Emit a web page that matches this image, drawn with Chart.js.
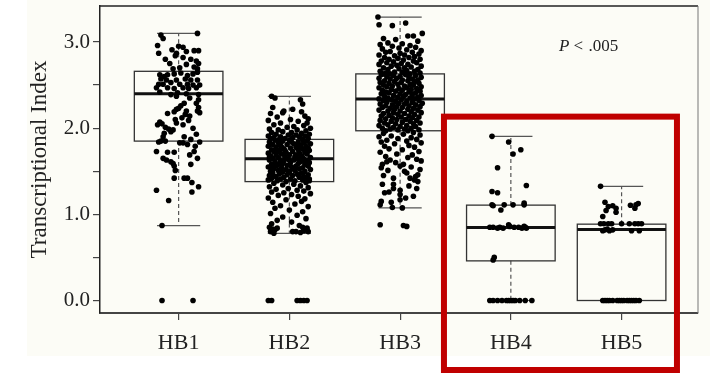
<!DOCTYPE html>
<html>
<head>
<meta charset="utf-8">
<script src="https://cdn.jsdelivr.net/npm/chart.js@4/dist/chart.umd.min.js"></script>
<style>
  html, body { margin: 0; padding: 0; background: #fff; }
  #wrap { width: 710px; height: 373px; position: relative; }
</style>
</head>
<body>
<div id="wrap"><canvas id="boxChart"></canvas></div>
<script>
// groups and box summaries
const categories = ["HB1", "HB2", "HB3", "HB4", "HB5"];
const q1 = [1.85, 1.38, 1.97, 0.46, 0.00];
const medians = [2.40, 1.645, 2.34, 0.847, 0.823];
const q3 = [2.66, 1.87, 2.63, 1.107, 0.886];
const whiskerLow = [0.87, 0.78, 1.075, 0.00, 0.00];
const whiskerHigh = [3.10, 2.37, 3.29, 1.905, 1.325];

const yTicks = [0, 0.5, 1, 1.5, 2, 2.5, 3];
const yTickLabels = ["0.0", "", "1.0", "", "2.0", "", "3.0"];

// jittered observations: [offset from group centre, index value]
const hb1Points = [
  [0.17,3.10],[-0.16,3.08],[-0.14,3.04],[-0.19,2.96],[0.00,2.95],[0.04,2.94],[-0.06,2.91],[0.14,2.90],[0.18,2.90],[0.07,2.89],
  [-0.02,2.87],[-0.18,2.87],[-0.03,2.84],[0.04,2.82],[0.11,2.80],[0.16,2.78],[-0.12,2.80],[-0.08,2.75],[0.18,2.75],[0.07,2.74],
  [0.01,2.70],[0.14,2.71],[0.17,2.69],[-0.05,2.69],[-0.17,2.62],[-0.13,2.60],[-0.10,2.62],[-0.04,2.63],[0.02,2.64],[0.08,2.61],
  [0.13,2.63],[0.17,2.65],[-0.16,2.57],[-0.11,2.56],[-0.02,2.56],[0.06,2.57],[0.11,2.56],[0.17,2.56],[-0.18,2.51],[-0.14,2.51],
  [-0.07,2.53],[0.01,2.51],[0.08,2.51],[0.13,2.50],[0.19,2.50],[-0.20,2.47],[-0.10,2.47],[-0.04,2.46],[0.04,2.47],[0.09,2.46],
  [0.16,2.47],[-0.17,2.42],[-0.07,2.39],[-0.01,2.41],[0.07,2.40],[0.18,2.39],[0.10,2.35],[-0.02,2.37],[0.18,2.33],[0.16,2.29],
  [0.05,2.29],[0.02,2.26],[0.00,2.23],[-0.02,2.22],[0.18,2.24],[0.17,2.20],[0.07,2.20],[0.06,2.16],[-0.04,2.19],[-0.10,2.17],
  [0.10,2.14],[0.19,2.18],[-0.03,2.10],[0.03,2.12],[0.09,2.09],[-0.17,2.07],[-0.19,2.04],[-0.15,2.05],[-0.02,2.06],[0.04,2.04],
  [-0.12,2.01],[-0.09,1.99],[0.13,2.00],[-0.07,1.96],[-0.13,1.94],[-0.05,1.98],[0.16,1.93],[-0.14,1.90],[0.05,1.90],[0.11,1.87],
  [-0.16,1.85],[-0.12,1.85],[-0.18,1.84],[0.01,1.83],[0.04,1.83],[0.08,1.81],[0.19,1.84],[0.15,1.79],[-0.20,1.73],[-0.10,1.72],
  [-0.04,1.72],[0.14,1.73],[0.10,1.69],[0.17,1.65],[-0.14,1.65],[-0.11,1.63],[-0.07,1.61],[-0.05,1.59],[-0.04,1.56],[-0.03,1.51],
  [0.11,1.58],[-0.04,1.42],[0.05,1.42],[0.08,1.42],[0.12,1.37],[0.18,1.32],[0.12,1.26],[-0.20,1.28],[-0.09,1.16],[-0.15,0.87],
  [-0.15,0.00],[0.13,0.00]
];

const hb2Points = [
  [-0.16,2.37],[-0.13,2.35],[0.10,2.33],[0.12,2.28],[-0.15,2.24],[0.03,2.22],[-0.05,2.20],[0.11,2.19],[-0.17,2.17],[-0.06,2.18],
  [0.14,2.14],[0.17,2.11],[-0.11,2.13],[0.01,2.10],[-0.19,2.09],[0.08,2.08],[0.16,2.06],[-0.08,2.06],[-0.14,2.04],[0.13,2.03],
  [0.04,2.02],[-0.02,2.01],[0.19,2.00],[-0.18,1.99],[-0.10,1.98],[0.07,1.98],[0.15,1.97],[-0.06,1.96],[0.02,1.95],[-0.16,1.95],
  [0.11,1.94],[-0.12,1.93],[0.18,1.93],[-0.01,1.92],[0.06,1.92],[-0.19,1.91],[0.14,1.91],[-0.08,1.90],[0.09,1.90],[-0.14,1.89],
  [0.03,1.89],[0.17,1.88],[-0.04,1.88],[-0.17,1.88],[0.12,1.87],[-0.09,1.87],
  [0.00,1.86],[-0.13,1.86],[0.16,1.85],[-0.06,1.85],[0.08,1.84],[-0.18,1.84],[0.13,1.83],[-0.10,1.83],[0.04,1.82],[0.19,1.82],
  [-0.15,1.81],[-0.02,1.81],[0.10,1.80],[-0.08,1.80],[0.15,1.79],[-0.19,1.79],[0.06,1.78],[-0.12,1.78],[0.01,1.77],[0.17,1.77],
  [-0.05,1.76],[0.12,1.76],[-0.16,1.75],[0.08,1.75],[-0.09,1.74],[0.18,1.74],[0.03,1.73],[-0.14,1.73],[0.14,1.72],[-0.03,1.72],
  [-0.19,1.71],[0.09,1.71],[-0.07,1.70],[0.16,1.70],[0.00,1.69],[-0.12,1.69],[0.11,1.68],[-0.17,1.68],[0.05,1.67],[-0.04,1.67],
  [0.19,1.66],[-0.10,1.66],[0.07,1.65],[-0.15,1.65],[0.13,1.64],[-0.01,1.64],[-0.18,1.63],[0.04,1.63],[0.16,1.62],[-0.08,1.62],
  [0.10,1.61],[-0.13,1.61],[0.01,1.60],[0.18,1.60],[-0.06,1.59],[0.08,1.59],[-0.16,1.58],[0.14,1.58],[-0.02,1.57],[-0.11,1.57],
  [0.06,1.56],[0.17,1.56],[-0.19,1.55],[0.02,1.55],[-0.07,1.54],[0.12,1.54],[-0.14,1.53],[0.09,1.53],[-0.03,1.52],[0.19,1.52],
  [0.05,1.51],[-0.10,1.51],[-0.17,1.50],[0.14,1.50],[0.00,1.49],[-0.06,1.49],[0.11,1.48],[-0.15,1.48],[0.07,1.47],[-0.09,1.47],
  [0.17,1.46],[-0.02,1.46],[-0.18,1.45],[0.03,1.45],[0.13,1.44],[-0.12,1.44],[0.09,1.43],[-0.05,1.43],[-0.16,1.42],[0.16,1.42],
  [0.01,1.41],[-0.08,1.41],[0.12,1.40],[-0.19,1.40],[0.05,1.39],[-0.11,1.39],[0.18,1.39],[-0.03,1.38],
  [0.02,1.84],[-0.07,1.78],[0.14,1.75],[-0.11,1.72],[0.06,1.69],[-0.18,1.66],[0.10,1.64],[-0.05,1.62],[0.15,1.58],[-0.13,1.56],
  [0.03,1.53],[-0.01,1.50],[0.08,1.46],[-0.15,1.44],[0.18,1.41],[-0.09,1.59],[0.12,1.66],[-0.04,1.74],[0.07,1.81],[-0.16,1.52],
  [0.15,1.37],[-0.14,1.36],[0.04,1.35],[-0.06,1.34],[0.10,1.33],[-0.18,1.32],[0.17,1.31],[-0.01,1.30],[-0.12,1.29],[0.07,1.28],
  [0.13,1.27],[-0.16,1.26],[-0.05,1.25],[0.19,1.24],[0.02,1.23],[-0.10,1.22],[0.08,1.21],[-0.19,1.19],[0.14,1.18],[-0.03,1.17],
  [0.11,1.15],[-0.15,1.14],[0.05,1.12],[-0.08,1.10],[0.17,1.09],[-0.13,1.07],[0.00,1.05],[0.12,1.03],[-0.17,1.01],[0.07,0.99],
  [-0.06,0.97],[0.15,0.95],[-0.11,0.93],[0.02,0.91],[-0.16,0.89],[-0.18,0.85],[-0.15,0.83],[-0.13,0.82],[-0.11,0.84],[0.09,0.87],
  [0.12,0.85],[0.14,0.83],[0.16,0.84],[0.13,0.81],[0.17,0.80],[0.06,0.80],[0.03,0.80],[-0.17,0.80],[0.10,0.79],[-0.14,0.78],
  [-0.19,0.00],[-0.16,0.00],[0.07,0.00],[0.10,0.00],[0.13,0.00],[0.16,0.00]
];

const hb3Points = [
  [-0.20,3.29],[-0.19,3.20],[-0.07,3.19],[0.05,3.22],[0.07,3.07],[0.12,3.07],[0.20,3.10],
  [-0.15,3.04],[-0.04,3.03],[0.16,3.01],[-0.11,2.99],[0.02,2.98],[-0.18,2.97],[0.09,2.96],[-0.07,2.95],[0.14,2.94],[-0.01,2.93],
  [-0.16,2.92],[0.06,2.91],[0.19,2.90],[-0.09,2.89],[0.11,2.88],[-0.13,2.88],[0.00,2.87],[0.17,2.86],[-0.19,2.85],[0.04,2.85],
  [-0.05,2.84],[0.13,2.83],[-0.14,2.82],[0.08,2.82],[-0.02,2.81],[0.18,2.80],[-0.10,2.80],[0.03,2.79],[-0.17,2.78],[0.12,2.78],
  [-0.06,2.77],[0.15,2.76],[-0.12,2.76],[0.01,2.75],[0.07,2.74],[-0.19,2.74],[-0.03,2.73],[0.19,2.72],[-0.08,2.72],[0.10,2.71],
  [-0.15,2.70],[0.04,2.70],[-0.01,2.69],[0.16,2.68],[-0.11,2.68],[0.06,2.67],[-0.18,2.66],[0.13,2.66],[-0.05,2.65],[0.02,2.65],
  [0.18,2.64],[-0.13,2.64],[0.09,2.63],[-0.09,2.63],[-0.16,2.63],
  [0.05,2.62],[-0.17,2.62],[0.14,2.61],[-0.06,2.61],[0.00,2.60],[-0.12,2.60],[0.19,2.59],[0.08,2.59],[-0.03,2.58],[-0.19,2.58],
  [0.11,2.57],[-0.09,2.57],[0.16,2.56],[0.02,2.56],[-0.14,2.55],[0.07,2.55],[-0.05,2.54],[0.13,2.54],[-0.18,2.53],[0.01,2.53],
  [0.17,2.52],[-0.10,2.52],[0.09,2.51],[-0.02,2.51],[-0.15,2.50],[0.12,2.50],[0.04,2.49],[-0.07,2.49],[0.19,2.48],[-0.12,2.48],
  [0.06,2.47],[-0.19,2.47],[-0.01,2.46],[0.15,2.46],[0.10,2.45],[-0.08,2.45],[-0.16,2.44],[0.02,2.44],[0.18,2.43],[-0.04,2.43],
  [0.08,2.42],[-0.13,2.42],[0.14,2.41],[-0.10,2.41],[0.00,2.40],[-0.17,2.40],[0.11,2.39],[0.05,2.39],[-0.06,2.38],[0.19,2.38],
  [-0.14,2.37],[0.03,2.37],[0.16,2.36],[-0.02,2.36],[-0.11,2.35],[0.09,2.35],[-0.19,2.34],[0.13,2.34],[0.01,2.33],[-0.08,2.33],
  [0.17,2.32],[-0.15,2.32],[0.06,2.31],[-0.04,2.31],[0.11,2.30],[-0.12,2.30],[0.20,2.29],[-0.01,2.29],[0.04,2.28],[-0.18,2.28],
  [-0.07,2.27],[0.14,2.27],[0.08,2.26],[-0.13,2.26],[-0.03,2.25],[0.18,2.25],[0.02,2.24],[-0.16,2.24],[0.12,2.23],[-0.09,2.23],
  [-0.05,2.22],[0.07,2.22],[0.16,2.21],[-0.19,2.21],[0.00,2.20],[-0.11,2.20],[0.10,2.19],[0.19,2.18],[-0.06,2.18],[-0.15,2.17],
  [0.04,2.17],[0.13,2.16],[-0.02,2.16],[-0.10,2.15],[0.08,2.14],[-0.17,2.14],[0.17,2.13],[0.01,2.13],[-0.07,2.12],[0.11,2.12],
  [-0.13,2.11],[0.05,2.10],[-0.03,2.10],[0.15,2.09],[-0.18,2.09],[0.09,2.08],[-0.08,2.08],[0.02,2.07],[-0.14,2.06],[0.18,2.06],
  [-0.04,2.05],[0.12,2.05],[-0.11,2.04],[0.06,2.03],[-0.19,2.03],[0.00,2.02],[0.14,2.02],[-0.06,2.01],[0.10,2.00],[-0.16,2.00],
  [0.04,1.99],[-0.09,1.99],[0.17,1.98],[-0.02,1.98],[-0.13,1.97],[0.07,1.97],
  [0.12,1.95],[-0.15,1.94],[0.03,1.93],[0.18,1.92],[-0.08,1.91],[-0.19,1.90],[0.10,1.89],[-0.02,1.88],[0.15,1.87],[-0.12,1.86],
  [0.06,1.85],[-0.17,1.84],[0.19,1.83],[-0.05,1.82],[0.08,1.80],[-0.14,1.79],[0.13,1.78],[-0.10,1.76],[0.02,1.75],[0.17,1.73],
  [-0.18,1.72],[-0.03,1.70],[0.11,1.69],[-0.13,1.67],[0.07,1.66],[0.15,1.64],[-0.09,1.63],[0.19,1.62],[-0.12,1.61],[-0.04,1.60],
  [0.03,1.58],[-0.16,1.58],[0.00,1.56],[0.10,1.55],[-0.17,1.54],[0.18,1.52],[-0.11,1.51],[0.04,1.50],[0.06,1.48],[0.16,1.46],
  [-0.15,1.45],[0.14,1.44],[0.09,1.42],[-0.06,1.42],[0.13,1.40],[0.16,1.38],[-0.16,1.35],[-0.06,1.35],[0.08,1.33],[-0.06,1.30],
  [0.15,1.30],[0.00,1.28],[-0.10,1.26],[-0.14,1.25],[0.00,1.23],[0.12,1.21],[0.05,1.19],[0.00,1.17],[-0.17,1.15],[-0.08,1.14],
  [-0.18,1.11],[-0.07,1.08],[0.02,1.075],[-0.18,0.88],[0.03,0.87],[0.06,0.86]
];

const hb4Points = [
  [-0.17,1.905],[-0.02,1.84],[0.09,1.75],[0.02,1.70],[-0.12,1.54],[0.14,1.335],[-0.17,1.265],[-0.12,1.25],
  [-0.17,1.11],[-0.16,1.10],[-0.06,1.11],[0.02,1.11],[0.12,1.11],[0.12,1.13],[-0.09,1.05],
  [-0.19,0.85],[-0.16,0.85],[-0.12,0.84],[-0.10,0.85],[-0.07,0.84],[-0.02,0.88],[-0.01,0.86],[0.03,0.85],[0.07,0.85],
  [0.10,0.84],[0.12,0.86],[0.13,0.85],[0.14,0.84],[-0.16,0.47],[-0.15,0.50],
  [-0.19,0],[-0.16,0],[-0.12,0],[-0.08,0],[-0.04,0],[-0.02,0],[0.00,0],[0.02,0],[0.04,0],[0.08,0],[0.13,0],[0.19,0]
];

const hb5Points = [
  [-0.19,1.325],[-0.15,1.14],[-0.12,1.09],[-0.14,1.045],[-0.08,1.10],[-0.05,1.07],[-0.05,1.025],[0.08,1.105],[0.13,1.11],
  [0.15,1.125],[0.12,1.07],[-0.17,0.975],
  [-0.19,0.89],[-0.16,0.89],[-0.12,0.89],[-0.09,0.89],[0.00,0.89],[0.07,0.89],[0.12,0.89],[0.15,0.89],[0.18,0.89],
  [-0.17,0.81],[-0.15,0.82],[-0.13,0.83],[-0.11,0.81],[-0.08,0.82],[0.09,0.81],[0.16,0.81],
  [-0.17,0],[-0.15,0],[-0.13,0],[-0.11,0],[-0.08,0],[-0.04,0],[-0.02,0],[0.00,0],[0.02,0],[0.05,0],[0.07,0],
  [0.09,0],[0.11,0],[0.13,0],[0.16,0]
];

const groupPoints = [hb1Points, hb2Points, hb3Points, hb4Points, hb5Points];

const FONT = "'Liberation Serif', 'Times New Roman', serif";
const INK = "#222";

// flatten groups into scatter points around x = 1..5
const scatterData = [];
groupPoints.forEach((pts, i) => {
  pts.forEach(p => scatterData.push({ x: i + 1 + p[0], y: p[1] }));
});

// page background: cream figure area on white
const backgroundPlugin = {
  id: "background",
  beforeDraw(chart) {
    const ctx = chart.ctx;
    ctx.save();
    ctx.fillStyle = "#ffffff";
    ctx.fillRect(0, 0, chart.width, chart.height);
    ctx.fillStyle = "#fcfcf6";
    ctx.fillRect(27, 0, chart.width - 27, 356);
    ctx.restore();
  }
};

// boxes, whiskers and frame, drawn under the points
const boxPlugin = {
  id: "boxes",
  beforeDatasetsDraw(chart) {
    const ctx = chart.ctx;
    const xs = chart.scales.x;
    const ys = chart.scales.y;
    const area = chart.chartArea;

    ctx.save();
    // top and right sides of the panel
    ctx.strokeStyle = "#222";
    ctx.lineWidth = 1.5;
    ctx.beginPath();
    ctx.moveTo(area.left, area.top);
    ctx.lineTo(area.right, area.top);
    ctx.stroke();
    ctx.strokeStyle = "#777";
    ctx.lineWidth = 1;
    ctx.beginPath();
    ctx.moveTo(area.right, area.top);
    ctx.lineTo(area.right, area.bottom);
    ctx.stroke();

    categories.forEach((c, i) => {
      const xc = xs.getPixelForValue(i + 1);
      const xl = xs.getPixelForValue(i + 1 - 0.4);
      const xr = xs.getPixelForValue(i + 1 + 0.4);
      const cl = xs.getPixelForValue(i + 1 - 0.195);
      const cr = xs.getPixelForValue(i + 1 + 0.195);
      const yq1 = ys.getPixelForValue(q1[i]);
      const yq3 = ys.getPixelForValue(q3[i]);
      const ym = ys.getPixelForValue(medians[i]);
      const ylo = ys.getPixelForValue(whiskerLow[i]);
      const yhi = ys.getPixelForValue(whiskerHigh[i]);

      // dashed whiskers
      ctx.strokeStyle = "#555";
      ctx.lineWidth = 1.2;
      ctx.setLineDash([4, 3]);
      ctx.beginPath();
      ctx.moveTo(xc, yq3);
      ctx.lineTo(xc, yhi);
      ctx.moveTo(xc, yq1);
      ctx.lineTo(xc, ylo);
      ctx.stroke();
      ctx.setLineDash([]);

      // whisker caps
      ctx.beginPath();
      ctx.moveTo(cl, yhi);
      ctx.lineTo(cr, yhi);
      ctx.moveTo(cl, ylo);
      ctx.lineTo(cr, ylo);
      ctx.stroke();

      // box
      ctx.strokeStyle = "#333";
      ctx.lineWidth = 1.3;
      ctx.strokeRect(xl, yq3, xr - xl, yq1 - yq3);

      // median
      ctx.strokeStyle = "#111";
      ctx.lineWidth = 3;
      ctx.beginPath();
      ctx.moveTo(xl, ym);
      ctx.lineTo(xr, ym);
      ctx.stroke();
    });
    ctx.restore();
  }
};

// p-value note and highlight frame around HB4/HB5
const notePlugin = {
  id: "note",
  afterDraw(chart) {
    const ctx = chart.ctx;
    const xs = chart.scales.x;
    const ys = chart.scales.y;
    ctx.save();

    const px = xs.getPixelForValue(4.435);
    const py = ys.getPixelForValue(2.89);
    ctx.fillStyle = INK;
    ctx.textBaseline = "alphabetic";
    ctx.font = "italic 17px " + FONT;
    ctx.fillText("P", px, py);
    const w = ctx.measureText("P").width;
    ctx.font = "17px " + FONT;
    ctx.fillText("<", px + w + 4, py);
    ctx.fillText(".005", px + w + 19, py);

    const left = xs.getPixelForValue(3.396);
    const right = xs.getPixelForValue(5.50);
    const top = ys.getPixelForValue(2.134);
    const bottom = chart.height - 3;
    ctx.strokeStyle = "#c00000";
    ctx.lineWidth = 6;
    ctx.strokeRect(left, top, right - left, bottom - top);
    ctx.restore();
  }
};

new Chart(document.getElementById("boxChart"), {
  type: "scatter",
  data: {
    datasets: [{
      data: scatterData,
      backgroundColor: "#000",
      borderWidth: 0,
      pointRadius: 2.8,
      pointHoverRadius: 2.8
    }]
  },
  options: {
    responsive: true,
    maintainAspectRatio: false,
    animation: false,
    events: [],
    layout: { padding: { top: 6, right: 12, left: 0, bottom: 0 } },
    plugins: {
      legend: { display: false },
      tooltip: { enabled: false }
    },
    scales: {
      x: {
        type: "linear",
        min: 0.29,
        max: 5.69,
        afterBuildTicks: (scale) => {
          scale.ticks = categories.map((c, i) => ({ value: i + 1 }));
        },
        afterFit: (scale) => {
          scale.height = 60;
          scale.paddingLeft = 0;
          scale.paddingRight = 0;
        },
        ticks: {
          autoSkip: false,
          maxRotation: 0,
          padding: 10,
          color: INK,
          font: { family: FONT, size: 22 },
          callback: (v) => categories[Math.round(v) - 1]
        },
        grid: {
          display: true,
          drawOnChartArea: false,
          drawTicks: true,
          tickLength: 7,
          color: "#444",
          lineWidth: 1.2
        },
        border: { display: true, color: "#444", width: 2 }
      },
      y: {
        type: "linear",
        min: -0.145,
        max: 3.418,
        afterBuildTicks: (scale) => {
          scale.ticks = yTicks.map(v => ({ value: v }));
        },
        afterFit: (scale) => {
          scale.width = 100;
          scale.paddingTop = 0;
          scale.paddingBottom = 0;
        },
        ticks: {
          padding: 3,
          color: INK,
          font: { family: FONT, size: 21 },
          callback: (v) => yTickLabels[yTicks.indexOf(v)]
        },
        grid: {
          display: true,
          drawOnChartArea: false,
          drawTicks: true,
          tickLength: 7,
          color: "#444",
          lineWidth: 1.2
        },
        border: { display: true, color: "#222", width: 1.5 },
        title: {
          display: true,
          text: "Transcriptional Index",
          color: INK,
          font: { family: FONT, size: 23 },
          padding: { top: 26, bottom: 0 }
        }
      }
    }
  },
  plugins: [backgroundPlugin, boxPlugin, notePlugin]
});
</script>
</body>
</html>
